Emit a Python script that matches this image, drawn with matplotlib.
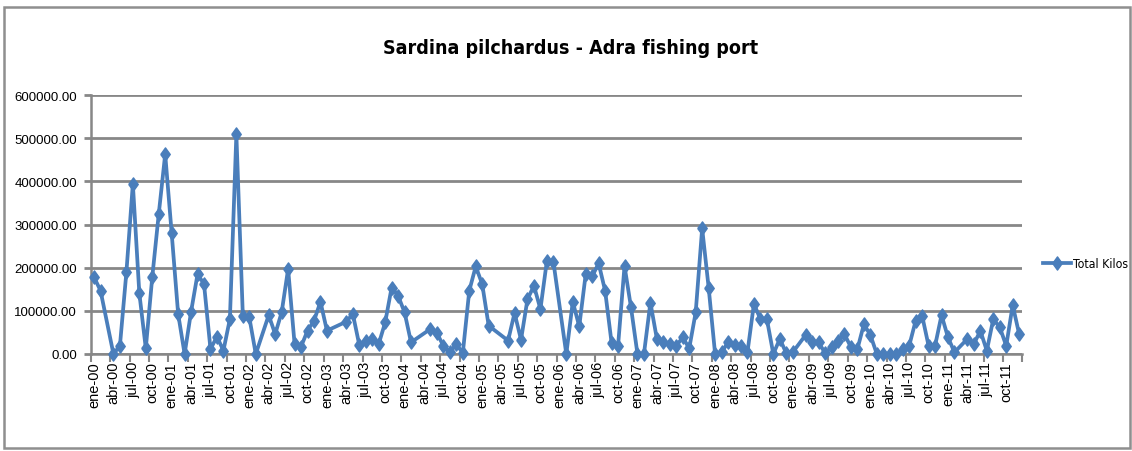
import matplotlib
matplotlib.use("Agg")
import matplotlib.pyplot as plt
from matplotlib.patches import Rectangle
import numpy as np

# constants
my_dpi = 100
W, H = 1132, 452
LINE_BLUE = "#4A7EBB"
GRID_GREY = "#878787"
FONT = ["Liberation Sans", "DejaVu Sans"]
NARROW = ["DejaVu Sans", "Liberation Sans"]

# monthly landings, ene-00 .. dic-11 (None = month not in the series)
kilos = [
    178000, 147000, None, 0, 19000, 189000, 394000, 141000, 13000, 178000, 324000, 463000,      # 2000
    280000, 93000, 0, 98000, 185000, 162000, 11500, 40000, 8000, 81000, 509000, 89000,         # 2001
    85000, 0, None, 90000, 46000, 96500, 197000, 23000, 17000, 54000, 77000, 121000,           # 2002
    54000, None, None, 75000, 93000, 21000, 31000, 35000, 23000, 73000, 154000, 135000,        # 2003
    96500, 27000, None, None, 58000, 48500, 19000, 4000, 23000, 2000, 146500, 203000,          # 2004
    162000, 65500, None, None, 31000, 95000, 33000, 127000, 158000, 104000, 216000, 214000,    # 2005
    None, 0, 121000, 64000, 185000, 180000, 210000, 146500, 25500, 19000, 204000, 108000,      # 2006
    0, 0, 119000, 35000, 28500, 23000, 19000, 38500, 13000, 96500, 291000, 154000,             # 2007
    0, 4000, 27000, 21000, 19000, 4000, 116000, 81000, 81000, 0, 35000, 2000,                  # 2008
    4000, None, 44000, 28500, 27000, 2000, 15500, 31000, 46000, 15500, 11500, 69000,           # 2009
    44000, 0, 0, 0, 0, 11500, 19000, 77000, 88700, 19000, 19000, 90000,                        # 2010
    38500, 4000, None, 35000, 23000, 54000, 7600, 81000, 62000, 19000, 113000, 46000,          # 2011
]
month_names = ["ene", "feb", "mar", "abr", "may", "jun", "jul", "ago", "sep", "oct", "nov", "dic"]
years = list(range(2000, 2012))
y_ticks = [0, 100000, 200000, 300000, 400000, 500000, 600000]

month_labels = ["{0}-{1:02d}".format(m, yr % 100) for yr in years for m in month_names]
values = np.array([np.nan if v is None else v for v in kilos], dtype=float)
pos = np.arange(len(values))
present = ~np.isnan(values)

fig = plt.figure(figsize=(W / my_dpi, H / my_dpi), dpi=my_dpi)
fig.patch.set_facecolor("white")

# chart area border
fig.patches.append(Rectangle((4 / W, 3 / H), 1126 / W, 441 / H, transform=fig.transFigure,
                             fill=False, edgecolor="#8f8f8f", lw=1.8))

ax = fig.add_axes([90.8 / W, 97 / H, 931.6 / W, 259 / H])

diamond = [(-0.72, 0), (0, 1), (0.72, 0), (0, -1), (-0.72, 0)]
ax.plot(pos[present], values[present], color=LINE_BLUE, lw=2.7, marker=diamond,
        markersize=9.5, markerfacecolor=LINE_BLUE, markeredgecolor=LINE_BLUE,
        label="Total Kilos", clip_on=False, zorder=3)

ax.set_xlim(-0.5, len(values) - 0.5)
ax.set_ylim(0, 600000)

ax.set_yticks(y_ticks)
ax.set_yticklabels(["{0:.2f}".format(v) for v in y_ticks], fontsize=9.5, family=FONT)
ax.yaxis.grid(True, color=GRID_GREY, lw=2)
ax.set_axisbelow(True)

# tick marks between categories, labels on every third month
ax.set_xticks(np.arange(-0.5, len(values), 3))
ax.set_xticklabels([])
ax.set_xticks(pos[::3], minor=True)
ax.set_xticklabels(month_labels[::3], minor=True, rotation=90, fontsize=10.5, family=FONT)
ax.tick_params(axis="x", which="minor", length=0, pad=5)
ax.tick_params(axis="x", which="major", length=6, width=1.5, color=GRID_GREY)
ax.tick_params(axis="y", length=5, width=2, color=GRID_GREY, pad=5)

for side in ["top", "right"]:
    ax.spines[side].set_visible(False)
for side in ["left", "bottom"]:
    ax.spines[side].set_color(GRID_GREY)
    ax.spines[side].set_linewidth(1.8)

fig.text(571 / W, 1 - 49 / H, "Sardina pilchardus - Adra fishing port", ha="center", va="center",
         fontsize=14, fontweight="bold", fontstretch="condensed", family=NARROW)

fig.legend(loc="center left", bbox_to_anchor=(1038 / W, 1 - 265 / H), frameon=False,
           handlelength=2.3, handletextpad=0.2, borderaxespad=0,
           prop={"family": NARROW, "stretch": "condensed", "size": 8.8})

fig.savefig("out.png", dpi=my_dpi)
